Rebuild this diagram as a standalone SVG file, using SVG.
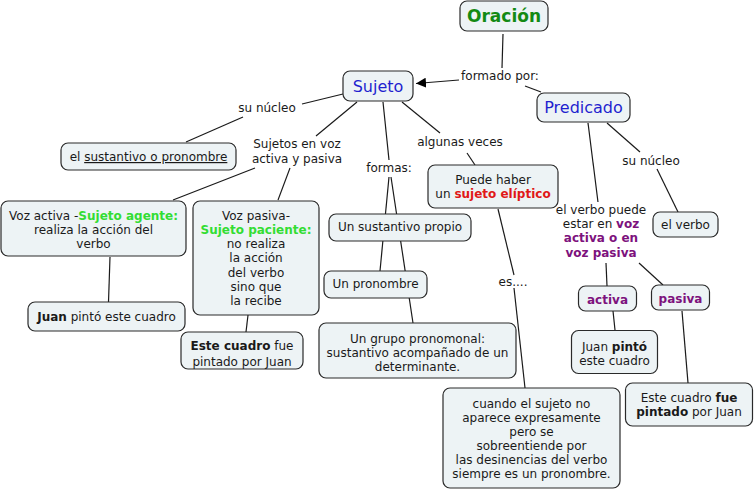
<svg xmlns="http://www.w3.org/2000/svg" width="755" height="491" viewBox="0 0 755 491">
<defs>
<style>
.box{fill:#edf3f5;stroke:#2a2a2a;stroke-width:1.2}
.t{font-family:"DejaVu Sans",Verdana,sans-serif;font-size:12px;fill:#1a1a1a;text-anchor:middle}
.b{font-weight:bold}
.g{fill:#33dd33;font-weight:bold}
.r{fill:#e01818;font-weight:bold}
.p{fill:#7d127d;font-weight:bold}
.blue{font-size:16px;fill:#1f1fcf}
.c line{stroke:#1a1a1a;stroke-width:1.2}
</style>
<marker id="arr" markerWidth="10" markerHeight="10" refX="10" refY="5" orient="auto" markerUnits="userSpaceOnUse">
<path d="M0,0 L10,5 L0,10 Z" fill="#000"/>
</marker>
</defs>
<rect width="755" height="491" fill="#fff"/>

<g id="connectors" class="c">
<line x1="503" y1="34" x2="502" y2="68"/>
<line x1="459" y1="80" x2="416" y2="83.5" marker-end="url(#arr)"/>
<line x1="525" y1="86" x2="541" y2="92"/>
<line x1="343" y1="94" x2="302" y2="104"/>
<line x1="243" y1="117" x2="186" y2="142"/>
<line x1="357" y1="102" x2="316" y2="136"/>
<line x1="255" y1="168" x2="173" y2="200"/>
<line x1="290" y1="168" x2="278" y2="200"/>
<line x1="110" y1="257" x2="108.5" y2="302"/>
<line x1="248" y1="315" x2="246" y2="332"/>
<line x1="383" y1="102" x2="389" y2="160"/>
<line x1="389" y1="177" x2="380" y2="271"/>
<line x1="391" y1="177" x2="413" y2="323"/>
<line x1="402" y1="102" x2="440" y2="133"/>
<line x1="467" y1="153" x2="475" y2="165"/>
<line x1="498" y1="209" x2="514" y2="275"/>
<line x1="514" y1="288" x2="525" y2="388"/>
<line x1="588" y1="123" x2="598" y2="202"/>
<line x1="607" y1="123" x2="640" y2="152"/>
<line x1="657" y1="169" x2="678" y2="212"/>
<line x1="606" y1="263" x2="607" y2="286"/>
<line x1="639" y1="263" x2="663" y2="285"/>
<line x1="613" y1="311" x2="615" y2="330"/>
<line x1="682" y1="311" x2="688" y2="383"/>
</g>

<g id="labels">
<text class="t" x="500" y="80">formado por:</text>
<text class="t" x="267" y="111.5">su núcleo</text>
<text class="t" x="297" y="147.5">Sujetos en voz</text>
<text class="t" x="297" y="162.5">activa y pasiva</text>
<text class="t" x="389" y="172">formas:</text>
<text class="t" x="460" y="146">algunas veces</text>
<text class="t" x="513" y="286">es....</text>
<text class="t" x="651" y="165">su núcleo</text>
<text class="t" x="601" y="213.5">el verbo puede</text>
<text class="t" x="601" y="227.5">estar en <tspan class="p">voz</tspan></text>
<text class="t" x="601" y="242"><tspan class="p">activa o en</tspan></text>
<text class="t" x="601" y="257"><tspan class="p">voz pasiva</tspan></text>
</g>

<g id="oracion">
<rect class="box" x="460" y="1" width="88" height="30" rx="7"/>
<text class="t b" x="504" y="22" style="font-size:17px;fill:#138a13">Oración</text>
</g>
<g id="sujeto">
<rect class="box" x="343" y="71" width="70" height="30" rx="7"/>
<text class="t blue" x="378" y="92">Sujeto</text>
</g>
<g id="predicado">
<rect class="box" x="537" y="93" width="93" height="29" rx="7"/>
<text class="t blue" x="583.5" y="113">Predicado</text>
</g>
<g id="sustantivo">
<rect class="box" x="61" y="143" width="175" height="27" rx="7"/>
<text class="t" x="148.5" y="161">el <tspan text-decoration="underline">sustantivo o pronombre</tspan></text>
</g>
<g id="vozactiva">
<rect class="box" x="1" y="201" width="185" height="55" rx="7"/>
<text class="t" x="93.5" y="220">Voz activa -<tspan class="g">Sujeto agente:</tspan></text>
<text class="t" x="93.5" y="234">realiza la acción del</text>
<text class="t" x="93.5" y="248">verbo</text>
</g>
<g id="juan1">
<rect class="box" x="28" y="302" width="157" height="29" rx="7"/>
<text class="t" x="106.5" y="321"><tspan class="b">Juan</tspan> pintó este cuadro</text>
</g>
<g id="vozpasiva">
<rect class="box" x="193" y="201" width="126" height="114" rx="7"/>
<text class="t" x="256" y="220">Voz pasiva-</text>
<text class="t" x="256" y="234"><tspan class="g">Sujeto paciente:</tspan></text>
<text class="t" x="256" y="248">no realiza</text>
<text class="t" x="256" y="262">la acción</text>
<text class="t" x="256" y="276.5">del verbo</text>
<text class="t" x="256" y="291">sino que</text>
<text class="t" x="256" y="305">la recibe</text>
</g>
<g id="estecuadro1">
<rect class="box" x="181" y="332" width="122" height="37" rx="7"/>
<text class="t" x="242" y="350"><tspan class="b">Este cuadro</tspan> fue</text>
<text class="t" x="242" y="365.5">pintado por Juan</text>
</g>
<g id="propio">
<rect class="box" x="329" y="214" width="142" height="27" rx="7"/>
<text class="t" x="400" y="231">Un sustantivo propio</text>
</g>
<g id="pronombre">
<rect class="box" x="324" y="271" width="103" height="27" rx="7"/>
<text class="t" x="375.5" y="288">Un pronombre</text>
</g>
<g id="grupo">
<rect class="box" x="319" y="323" width="197" height="55" rx="7"/>
<text class="t" x="417.5" y="343">Un grupo pronomonal:</text>
<text class="t" x="417.5" y="357">sustantivo acompañado de un</text>
<text class="t" x="417.5" y="371">determinante.</text>
</g>
<g id="eliptico">
<rect class="box" x="428" y="165" width="130" height="43" rx="7"/>
<text class="t" x="493" y="183.5">Puede haber</text>
<text class="t" x="493" y="198">un <tspan class="r">sujeto elíptico</tspan></text>
</g>
<g id="cuando">
<rect class="box" x="443" y="388" width="177" height="100" rx="7"/>
<text class="t" x="531.5" y="408">cuando el sujeto no</text>
<text class="t" x="531.5" y="422">aparece expresamente</text>
<text class="t" x="531.5" y="436">pero se</text>
<text class="t" x="531.5" y="450">sobreentiende por</text>
<text class="t" x="531.5" y="464">las desinencias del verbo</text>
<text class="t" x="531.5" y="478">siempre es un pronombre.</text>
</g>
<g id="elverbo">
<rect class="box" x="653" y="212" width="65" height="25" rx="7"/>
<text class="t" x="685.5" y="229">el verbo</text>
</g>
<g id="activa">
<rect class="box" x="578.5" y="286" width="58" height="25" rx="7"/>
<text class="t p" x="607.5" y="303.5">activa</text>
</g>
<g id="pasiva">
<rect class="box" x="651.5" y="285" width="58" height="25" rx="7"/>
<text class="t p" x="680.5" y="302.5">pasiva</text>
</g>
<g id="juan2">
<rect class="box" x="571.5" y="330.5" width="86" height="43" rx="7"/>
<text class="t" x="614.5" y="351"><tspan>Juan </tspan><tspan class="b">pintó</tspan></text>
<text class="t" x="614.5" y="365">este cuadro</text>
</g>
<g id="estecuadro2">
<rect class="box" x="625.5" y="383" width="127" height="43" rx="7"/>
<text class="t" x="689" y="401.5">Este cuadro <tspan class="b">fue</tspan></text>
<text class="t" x="689" y="416"><tspan class="b">pintado</tspan> por Juan</text>
</g>
</svg>
